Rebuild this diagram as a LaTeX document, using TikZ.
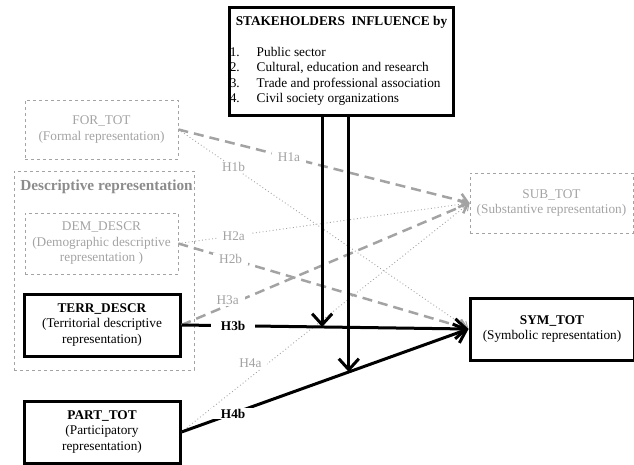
\documentclass[tikz,border=0pt]{standalone}
\usepackage{fontspec}
\setmainfont{Liberation Serif}
\usetikzlibrary{arrows.meta}

\definecolor{hintgray}{HTML}{A3A3A3}
\definecolor{titlegray}{HTML}{8C8C8C}
\newcommand{\diagfont}{\fontsize{13.3}{15.5}\selectfont}

\begin{document}
\begin{tikzpicture}[
      x=1pt,
      y=-1pt,
      font=\diagfont,
      strongbox/.style={
          rectangle,
          draw,
          line width=3pt,
          align=center,
          inner sep=0pt
        },
      hintbox/.style={
          rectangle,
          draw=hintgray,
          dashed,
          line width=0.8pt,
          text=hintgray,
          align=center,
          inner sep=0pt
        },
      hintdash/.style={
          draw=hintgray,
          line width=2.5pt,
          dash pattern=on 10pt off 6pt,
          -{Straight Barb[length=8pt,width=14pt]}
        },
      hintdot/.style={
          draw=hintgray,
          line width=0.9pt,
          dash pattern=on 0.9pt off 2.5pt,
          -{Straight Barb[length=6pt,width=10pt]}
        },
      strongarrow/.style={
          line width=3pt,
          -{Straight Barb[length=11pt,width=20pt]}
        },
      hintlabel/.style={
          fill=white,
          text=hintgray,
          inner xsep=6pt,
          inner ysep=1pt
        },
      stronglabel/.style={
          fill=white,
          font=\diagfont\bfseries,
          inner xsep=10pt,
          inner ysep=1pt
        }
    ]

    \useasboundingbox (0,0) rectangle (634,464);

    % Nodes
    \node[strongbox, minimum width=223pt, minimum height=108pt] (stake) at (341.5,61) {%
      \begin{tabular}{@{}l@{\hspace{17pt}}l@{}}
        \multicolumn{2}{c}{\textbf{STAKEHOLDERS\ \ INFLUENCE by}}\\[15pt]
        1. & Public sector\\
        2. & Cultural, education and research\\
        3. & Trade and professional association\\
        4. & Civil society organizations
      \end{tabular}};
    \node[hintbox, minimum width=153pt, minimum height=59pt] (fortot) at (101.5,129.5) {FOR\_TOT\\(Formal representation)};
    \node[hintbox, minimum width=180pt, minimum height=199pt] (descrgroup) at (104,270.5) {};
    \node[text=titlegray, font=\fontsize{15.3}{17}\selectfont\bfseries] (descrtitle) at (106.5,187) {Descriptive representation};
    \node[hintbox, minimum width=153pt, minimum height=61pt] (demdescr) at (101.5,243.5) {DEM\_DESCR\\(Demographic descriptive\\representation )};
    \node[strongbox, minimum width=156pt, minimum height=62pt] (terr) at (102,325) {\textbf{TERR\_DESCR}\\(Territorial descriptive\\representation)};
    \node[strongbox, minimum width=156pt, minimum height=62pt] (part) at (102,432) {\textbf{PART\_TOT}\\(Participatory\\representation)};
    \node[hintbox, minimum width=163pt, minimum height=60pt] (subtot) at (551.5,203) {SUB\_TOT\\(Substantive representation)};
    \node[strongbox, minimum width=164pt, minimum height=62pt] (symtot) at (552,329) {\textbf{SYM\_TOT}\\(Symbolic representation)};

    % Arrows
    \draw[hintdot] (fortot.east) -- node[hintlabel, pos=0.19] {H1b} (symtot.west);
    \draw[hintdot] (demdescr.east) -- node[hintlabel, pos=0.19] {H2a} (subtot.west);
    \draw[hintdot] (part.east) -- node[hintlabel, pos=0.3, left] {H4a} (subtot.west);
    \draw[hintdash] (fortot.east) -- node[hintlabel, pos=0.38] {H1a} (subtot.west);
    \draw[hintdash] (demdescr.east) -- node[hintlabel, pos=0.18] {H2b} (symtot.west);
    \draw[hintdash] (terr.east) -- node[hintlabel, pos=0.16, yshift=5pt] {H3a} (subtot.west);
    \draw[strongarrow] (terr.east) -- node[stronglabel, pos=0.18] {H3b} coordinate[pos=0.49] (mod3) (symtot.west);
    \draw[strongarrow] (part.east) -- node[stronglabel, pos=0.18] {H4b} coordinate[pos=0.583] (mod4) (symtot.west);
    \draw[strongarrow] (stake.south -| mod3) -- (mod3);
    \draw[strongarrow] (stake.south -| mod4) -- (mod4);

  \end{tikzpicture}
\end{document}
